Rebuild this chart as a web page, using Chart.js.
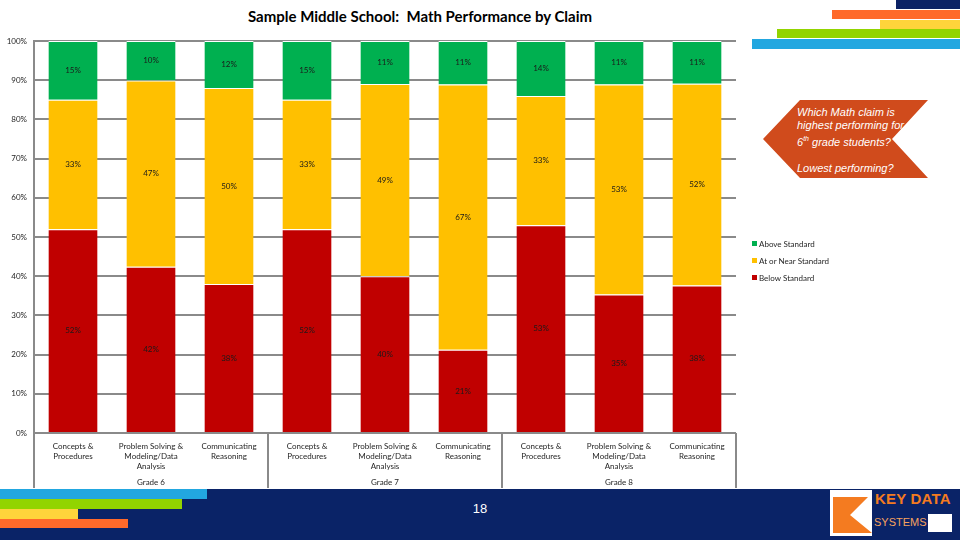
<!DOCTYPE html>
<html>
<head>
<meta charset="utf-8">
<script src="https://cdn.jsdelivr.net/npm/chart.js@4/dist/chart.umd.min.js"></script>
<style>
  body { margin: 0; width: 960px; height: 540px; overflow: hidden; background: #fff; position: relative; font-family: Lato, sans-serif; }
  #chart-box { position: absolute; left: 0; top: 0; width: 960px; height: 540px; }
  .band { position: absolute; }
  #title { position: absolute; left: 0; top: 7px; width: 840px; text-align: center; font: bold 15px Lato, sans-serif; color: #000; white-space: pre; }
  #callout { position: absolute; left: 763px; top: 100px; width: 165px; height: 78px; background: #d04b1c;
             clip-path: polygon(0 39px, 37px 0, 165px 0, 129px 39px, 165px 78px, 37px 78px); }
  #callout p { margin: 0; position: absolute; left: 34px; top: 6px; width: 160px; color: #fff;
               font: italic 11px "Liberation Sans", Arial, sans-serif; line-height: 13px; }
  #page-no { position: absolute; left: 460px; top: 501px; width: 40px; text-align: center; color: #fff; font: 13px "Liberation Sans", Arial, sans-serif; }
  #logo-key { position: absolute; left: 875px; top: 490px; color: #f47b20; font: bold 15px "Liberation Sans", Arial, sans-serif; letter-spacing: 0.2px; }
  #logo-sys { position: absolute; left: 874px; top: 516px; color: #f6a25e; font: 11px "Liberation Sans", Arial, sans-serif; }
</style>
</head>
<body>
<div id="title">Sample Middle School:  Math Performance by Claim</div>

<!-- top-right stripes -->
<div class="band" style="left:896px;top:0;width:64px;height:9px;background:#0b2265"></div>
<div class="band" style="left:832px;top:10px;width:128px;height:9px;background:#ff6a2a"></div>
<div class="band" style="left:880px;top:20px;width:80px;height:9px;background:#ffd43b"></div>
<div class="band" style="left:777px;top:29px;width:183px;height:9px;background:#92d400"></div>
<div class="band" style="left:752px;top:39px;width:208px;height:10px;background:#22a7e0"></div>

<!-- footer -->
<div class="band" style="left:0;top:489px;width:960px;height:51px;background:#0a2367"></div>
<div class="band" style="left:0;top:489px;width:207px;height:10px;background:#22a7e0"></div>
<div class="band" style="left:0;top:499px;width:182px;height:10px;background:#92d400"></div>
<div class="band" style="left:0;top:509px;width:78px;height:10px;background:#ffd43b"></div>
<div class="band" style="left:0;top:519px;width:128px;height:9px;background:#ff6a2a"></div>
<div id="page-no">18</div>
<svg class="band" style="left:830px;top:490px" width="42" height="46">
  <rect width="42" height="46" fill="#fff"/>
  <polygon points="3,7 38,7 20,25 42,43 3,43" fill="#f47b20"/>
</svg>
<div id="logo-key">KEY DATA</div>
<div class="band" style="left:928px;top:514px;width:24px;height:18px;background:#fff"></div>
<div id="logo-sys">SYSTEMS</div>

<div id="chart-box"><canvas id="claims-chart" width="960" height="540"></canvas></div>

<div id="callout"><p>Which Math claim is<br>highest performing for<br>6<sup style="font-size:7px">th</sup> grade students?<br><br>Lowest performing?</p></div>

<script>
// --- data ---
const grades = ["Grade 6", "Grade 7", "Grade 8"];
const claimNames = [
    ["Concepts &", "Procedures"],
    ["Problem Solving &", "Modeling/Data", "Analysis"],
    ["Communicating", "Reasoning"]
];
const belowStandard = [52, 42, 38, 52, 40, 21, 53, 35, 38];
const nearStandard  = [33, 47, 50, 33, 49, 67, 33, 53, 52];
const aboveStandard = [15, 10, 12, 15, 11, 11, 14, 11, 11];
const seriesNames = ["Below Standard", "At or Near Standard", "Above Standard"];
const seriesColors = ["#c00000", "#ffc000", "#00b050"];

const labels = grades.flatMap(() => claimNames);
const rawSeries = [belowStandard, nearStandard, aboveStandard];

// the original is a 100% stacked chart, so each column is scaled to its own total
const totals = belowStandard.map((v, i) => v + nearStandard[i] + aboveStandard[i]);
const share = arr => arr.map((v, i) => v / totals[i] * 100);

const TEXT = "#262626";
const GRID = "#8a8a8a";

const segmentLabels = {
    id: "segmentLabels",
    afterDatasetsDraw(chart) {
        const ctx = chart.ctx;
        ctx.save();
        ctx.font = "8px Lato";
        ctx.textAlign = "center";
        ctx.textBaseline = "middle";
        ctx.fillStyle = "#1a1a1a";
        rawSeries.forEach((values, i) => {
            chart.getDatasetMeta(i).data.forEach((bar, j) => {
                ctx.fillText(values[j] + "%", bar.x, (bar.y + bar.base) / 2);
            });
        });
        ctx.restore();
    }
};

const gradeGroups = {
    id: "gradeGroups",
    afterDraw(chart) {
        const {ctx, chartArea} = chart;
        const x = chart.scales.x;
        const step = x.getPixelForValue(1) - x.getPixelForValue(0);
        ctx.save();
        ctx.strokeStyle = GRID;
        ctx.lineWidth = 2;
        for (let g = 0; g <= grades.length; g++) {
            const px = Math.round(x.getPixelForValue(g * 3) - step / 2);
            ctx.beginPath();
            ctx.moveTo(px, chartArea.bottom);
            ctx.lineTo(px, 488);
            ctx.stroke();
        }
        ctx.font = "8px Lato";
        ctx.fillStyle = TEXT;
        ctx.textAlign = "center";
        ctx.textBaseline = "middle";
        grades.forEach((g, k) => ctx.fillText(g, x.getPixelForValue(k * 3 + 1), 482));

        // legend, top item is the top segment
        ctx.textAlign = "left";
        [2, 1, 0].forEach((s, row) => {
            const y = 244 + row * 17;
            ctx.fillStyle = seriesColors[s];
            ctx.fillRect(chartArea.right + 16, y - 3, 5, 5);
            ctx.fillStyle = TEXT;
            ctx.fillText(seriesNames[s], chartArea.right + 23, y);
        });
        ctx.restore();
    }
};

new Chart(document.getElementById("claims-chart").getContext("2d"), {
    type: "bar",
    data: {
        labels: labels,
        datasets: rawSeries.map((values, i) => ({
            label: seriesNames[i],
            data: share(values),
            backgroundColor: seriesColors[i],
            borderColor: "#ffffff",
            borderWidth: {top: 1, right: 0, bottom: 0, left: 0},
            borderSkipped: false,
            categoryPercentage: 1,
            barPercentage: 0.63
        }))
    },
    options: {
        responsive: false,
        animation: false,
        layout: {padding: {top: 41, right: 224, bottom: 47, left: 0}},
        plugins: {legend: {display: false}, title: {display: false}, tooltip: {enabled: false}},
        scales: {
            x: {
                stacked: true,
                grid: {display: false, drawTicks: false},
                border: {display: false},
                afterFit: s => { s.height = 60; },
                ticks: {autoSkip: false, maxRotation: 0, padding: 8, color: TEXT,
                        font: {family: "Lato", size: 8, lineHeight: 1.25}}
            },
            y: {
                stacked: true,
                min: 0,
                max: 100,
                afterFit: s => { s.width = 34; },
                grid: {color: GRID, lineWidth: 2, drawTicks: false},
                border: {color: GRID, width: 2},
                ticks: {stepSize: 10, padding: 7, color: TEXT,
                        font: {family: "Lato", size: 8},
                        callback: v => v + "%"}
            }
        }
    },
    plugins: [segmentLabels, gradeGroups]
});
</script>
</body>
</html>
